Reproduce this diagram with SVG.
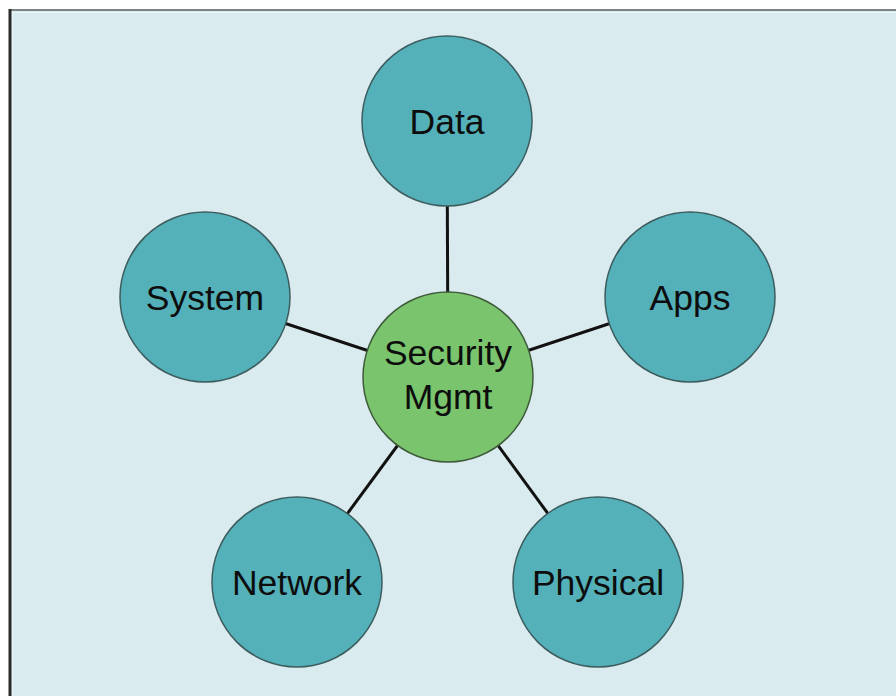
<svg xmlns="http://www.w3.org/2000/svg" width="896" height="696" viewBox="0 0 896 696">
  <style>
    .node { fill: #54b1b9; stroke: #3d5c5e; stroke-width: 1.5; }
    .hub { fill: #79c46c; stroke: #3e5a3a; stroke-width: 1.5; }
    .label { font-family: "Liberation Sans", Arial, sans-serif; font-size: 35.5px; fill: #0d0d0d; text-anchor: middle; }
    .link { stroke: #111; stroke-width: 3; }
  </style>
  <!-- page and frame -->
  <rect x="0" y="0" width="896" height="696" fill="#ffffff"/>
  <rect x="10" y="10" width="886" height="686" fill="#d9ebee"/>
  <line x1="10" y1="12.5" x2="896" y2="12.5" stroke="#eaf5f5" stroke-width="1"/>
  <line x1="12.5" y1="12" x2="12.5" y2="696" stroke="#eaf5f5" stroke-width="1"/>
  <line x1="9" y1="10" x2="896" y2="10" stroke="#7a8686" stroke-width="2"/>
  <line x1="10" y1="9" x2="10" y2="696" stroke="#2a2a2a" stroke-width="3"/>

  <!-- spokes from the hub to each area -->
  <g id="connectors">
    <line class="link" x1="448" y1="377" x2="447" y2="121"/>
    <line class="link" x1="448" y1="377" x2="205" y2="297"/>
    <line class="link" x1="448" y1="377" x2="690" y2="297"/>
    <line class="link" x1="448" y1="377" x2="297" y2="582"/>
    <line class="link" x1="448" y1="377" x2="598" y2="582"/>
  </g>

  <g id="data">
    <circle class="node" cx="447" cy="121" r="85"/>
    <text class="label" x="447" y="134">Data</text>
  </g>
  <g id="system">
    <circle class="node" cx="205" cy="297" r="85"/>
    <text class="label" x="205" y="310">System</text>
  </g>
  <g id="apps">
    <circle class="node" cx="690" cy="297" r="85"/>
    <text class="label" x="690" y="310">Apps</text>
  </g>
  <g id="network">
    <circle class="node" cx="297" cy="582" r="85"/>
    <text class="label" x="297" y="595">Network</text>
  </g>
  <g id="physical">
    <circle class="node" cx="598" cy="582" r="85"/>
    <text class="label" x="598" y="595">Physical</text>
  </g>
  <g id="security-mgmt">
    <circle class="hub" cx="448" cy="377" r="85"/>
    <text class="label" x="448" y="365">Security</text>
    <text class="label" x="448" y="409">Mgmt</text>
  </g>
</svg>
